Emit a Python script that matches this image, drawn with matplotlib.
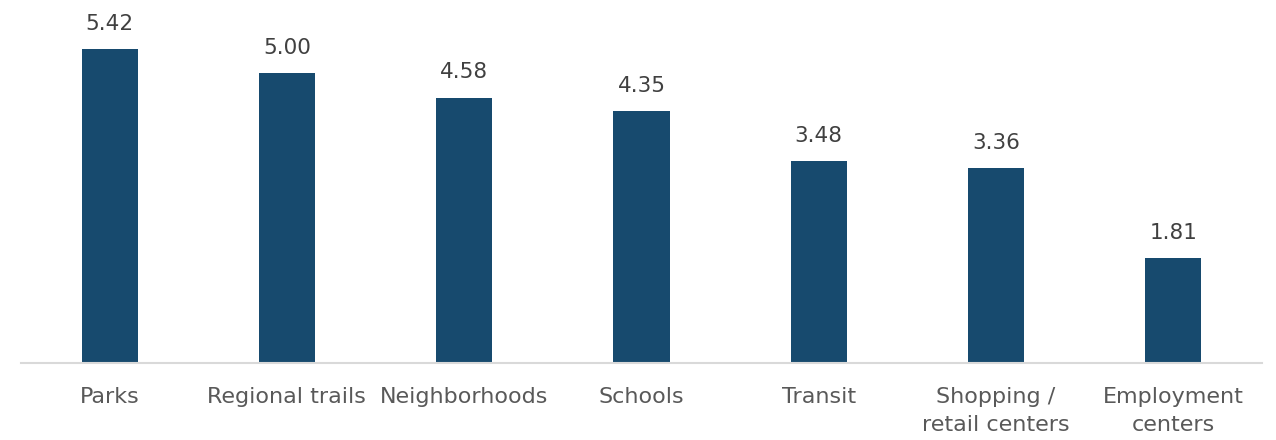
import matplotlib.pyplot as plt
import numpy as np

categories = ['Parks', 'Regional trails', 'Neighborhoods', 'Schools', 'Transit',
              'Shopping /\nretail centers', 'Employment\ncenters']
values = [5.42, 5.00, 4.58, 4.35, 3.48, 3.36, 1.81]

bar_color = '#174A6E'
text_color = '#595959'

fig = plt.figure(figsize=(12.76, 4.4), dpi=100)
ax = fig.add_axes([21/1276, 1-363/440, (1262-21)/1276, 347.6/440])

x = np.arange(len(categories))
bars = ax.bar(x, values, width=0.316, color=bar_color)

for xi, v in zip(x, values):
    ax.annotate('%.2f' % v, (xi, v), xytext=(0, 11), textcoords='offset points',
                ha='center', va='bottom', fontsize=15.5, color='#404040')

ax.set_xlim(-0.5, len(categories) - 0.5)
ax.set_ylim(0, 6)
ax.set_xticks(x)
ax.set_xticklabels(categories, fontsize=16, color=text_color, linespacing=1.55)
ax.tick_params(axis='x', length=0, pad=17)
ax.set_yticks([])
for s in ['top', 'right', 'left']:
    ax.spines[s].set_visible(False)
ax.spines['bottom'].set_color('#D9D9D9')
ax.spines['bottom'].set_linewidth(1.5)

fig.savefig('out.png', dpi=100)
